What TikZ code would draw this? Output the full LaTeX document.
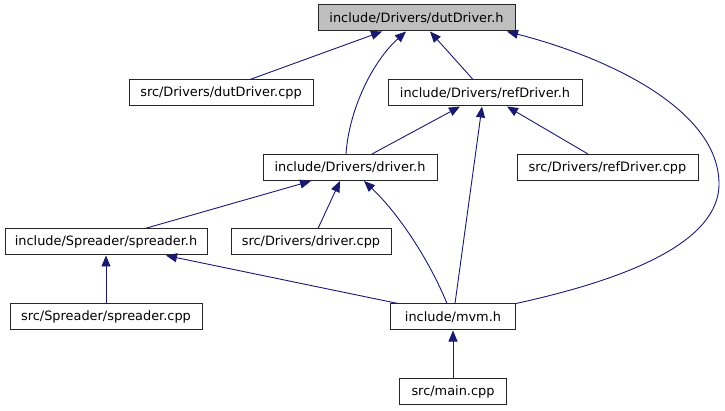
\documentclass[tikz,border=0pt]{standalone}
\usepackage{fontspec}
\setmainfont{DejaVu Sans}
\usetikzlibrary{arrows.meta}
\definecolor{edgeblue}{HTML}{191970}
\definecolor{topfill}{HTML}{BFBFBF}
\tikzset{
  box/.style={draw=black!85, line width=1pt, fill=white, minimum height=26pt, inner sep=0pt, font=\fontsize{12.9}{14}\selectfont},
  topbox/.style={box, fill=topfill},
  edge/.style={draw=edgeblue, line width=0.9pt, -{Triangle[length=11pt,width=9pt]}}
}
\begin{document}
\begin{tikzpicture}[x=1pt,y=-1pt]
\useasboundingbox (0,0) rectangle (725,411);
\node[topbox, minimum width=197pt] (dut) at (416.5,18) {include/Drivers/dutDriver.h};
\node[box, minimum width=184pt] (dutcpp) at (221,93) {src/Drivers/dutDriver.cpp};
\node[box, minimum width=194pt] (ref) at (485,93) {include/Drivers/refDriver.h};
\node[box, minimum width=174pt] (drv) at (350,167.5) {include/Drivers/driver.h};
\node[box, minimum width=181pt] (refcpp) at (607.5,167.5) {src/Drivers/refDriver.cpp};
\node[box, minimum width=202pt] (spr) at (106,242) {include/Spreader/spreader.h};
\node[box, minimum width=160pt] (drvcpp) at (311,242) {src/Drivers/driver.cpp};
\node[box, minimum width=192pt] (sprcpp) at (106,317) {src/Spreader/spreader.cpp};
\node[box, minimum width=125pt] (mvm) at (453,317) {include/mvm.h};
\node[box, minimum width=107pt] (main) at (453,391.5) {src/main.cpp};
% edges
\draw[edge] ([xshift=29pt]dutcpp.north) -- ([xshift=-34.5pt]dut.south);
\draw[edge] ([xshift=-4pt]drv.north) .. controls (349,110) and (372,62) .. ([xshift=-10.5pt]dut.south);
\draw[edge] ([xshift=-12pt]ref.north) -- ([xshift=13.5pt]dut.south);
\draw[edge] (mvm.north east) .. controls (600,285) and (720,250) .. (719,183) .. controls (718,110) and (610,58) .. ([xshift=90.5pt]dut.south);
\draw[edge] ([xshift=22pt]drv.north) -- ([xshift=-25pt]ref.south);
\draw[edge] ([xshift=2pt]mvm.north) -- ([xshift=-3pt]ref.south);
\draw[edge] ([xshift=-19.5pt]refcpp.north) -- ([xshift=22pt]ref.south);
\draw[edge] ([xshift=39pt]spr.north) -- ([xshift=-39pt]drv.south);
\draw[edge] ([xshift=7pt]drvcpp.north) -- ([xshift=-10pt]drv.south);
\draw[edge] ([xshift=-6pt]mvm.north) .. controls (430,262) and (400,215) .. ([xshift=14pt]drv.south);
\draw[edge] (sprcpp.north) -- (spr.south);
\draw[edge] ([xshift=-55pt]mvm.north) -- ([xshift=60pt]spr.south);
\draw[edge] (main.north) -- (mvm.south);
\end{tikzpicture}
\end{document}
